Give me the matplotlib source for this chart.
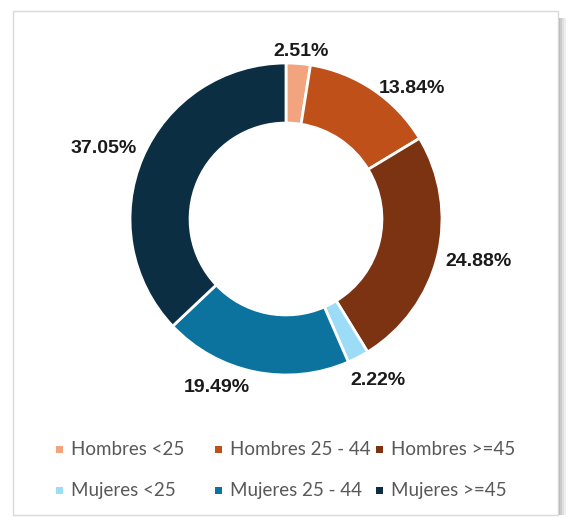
import numpy as np
import matplotlib
matplotlib.use("Agg")
import matplotlib.pyplot as plt
from matplotlib.patches import Rectangle

# data
categories = ["Hombres <25", "Hombres 25 - 44", "Hombres >=45",
              "Mujeres <25", "Mujeres 25 - 44", "Mujeres >=45"]
values = [2.51, 13.84, 24.88, 2.22, 19.49, 37.05]
colors = ["#F2A47F", "#C0501A", "#7B3311", "#9CDCF6", "#0B739E", "#0B2E42"]

# small label nudges (pixels), Excel shifts a few labels
label_nudge = [(0, -2), (15, -11), (0, -2), (3, -11), (-30, -2), (0, 3)]

W, H = 571, 518
fig = plt.figure(figsize=(W / 100, H / 100), dpi=100)
fig.patch.set_facecolor("white")


def fx(px):
    return px / W


def fy(py):
    return (H - py) / H


# chart box with soft shadow on the right (behind the axes)
for i, a in enumerate([0.45, 0.32, 0.2, 0.1]):
    fig.add_artist(Rectangle((fx(558 + i * 2), fy(515)), 2 / W, (515 - 18) / H,
                             transform=fig.transFigure, facecolor="#606060",
                             edgecolor="none", alpha=a, zorder=-3))
fig.add_artist(Rectangle((fx(13), fy(515)), (558 - 13) / W, (515 - 11) / H,
                         transform=fig.transFigure, facecolor="white",
                         edgecolor="#d9d9d9", linewidth=1, zorder=-2))

# donut axes: centre at (286, 219) px, outer radius 156 px
R = 156
L = 1.4
s = L * R
cx, cy = 286, 219
ax = fig.add_axes([fx(cx - s), fy(cy + s), 2 * s / W, 2 * s / H])
ax.patch.set_alpha(0)
wedges, _ = ax.pie(values, colors=colors, startangle=90, counterclock=False,
                   radius=1.0,
                   wedgeprops=dict(width=0.385, edgecolor="white", linewidth=2))
ax.set_xlim(-L, L)
ax.set_ylim(-L, L)
ax.set_aspect("equal")
ax.axis("off")

for k, w in enumerate(wedges):
    th = np.deg2rad((w.theta1 + w.theta2) / 2)
    txt = f"{values[k]:.2f}%"
    hw = 6 * len(txt)
    hh = 8
    dx = hw * np.cos(th) + label_nudge[k][0]
    dy = hh * np.sin(th) + label_nudge[k][1]
    ax.annotate(txt, xy=(1.04 * np.cos(th), 1.04 * np.sin(th)),
                xytext=(dx, dy), textcoords="offset pixels",
                ha="center", va="center", fontsize=14, fontweight="bold",
                family="Liberation Sans", color="#1a1a1a", annotation_clip=False)

# legend, drawn as Excel does with fixed columns
col_x = [56, 215, 376]
row_y = [449, 490]
for i, name in enumerate(categories):
    r, c = divmod(i, 3)
    fig.add_artist(Rectangle((fx(col_x[c]), fy(row_y[r] + 3.5)), 7 / W, 7 / H,
                             transform=fig.transFigure, facecolor=colors[i],
                             edgecolor="none"))
    fig.text(fx(col_x[c] + 15), fy(row_y[r] + 6), name, fontsize=13.5,
             family="Lato", color="#595959", ha="left", va="baseline")

fig.savefig("out.png", dpi=100, facecolor="white")
